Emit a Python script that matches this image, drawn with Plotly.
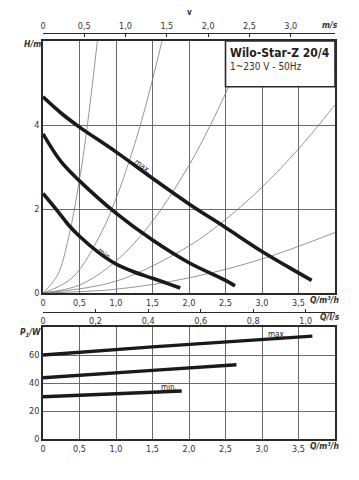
import plotly.graph_objects as go

# page body has an 8px margin: the figure starts at (8, 8) of the window
OFF = 8
W, H = 359 - OFF, 480 - OFF

# ---------------- data ----------------
# pump curves H [m] vs Q [m3/h]
q_max = [0, 0.25, 0.5, 1.0, 1.5, 2.0, 2.5, 3.0, 3.5, 3.68]
h_max = [4.67, 4.28, 3.95, 3.36, 2.73, 2.12, 1.56, 0.99, 0.48, 0.3]
q_mid = [0, 0.25, 0.5, 1.0, 1.5, 2.0, 2.5, 2.63]
h_mid = [3.79, 3.12, 2.67, 1.9, 1.26, 0.72, 0.3, 0.17]
q_min = [0, 0.2, 0.35, 0.5, 0.75, 1.0, 1.25, 1.5, 1.7, 1.88]
h_min = [2.37, 1.95, 1.62, 1.35, 0.98, 0.69, 0.5, 0.35, 0.23, 0.12]

# thin system curves
sys_q = [
    [0, 0.2, 0.35, 0.5, 0.6, 0.745],
    [0, 0.4, 0.8, 1.0, 1.2, 1.4, 1.63],
    [0, 0.5, 1.0, 1.5, 2.0, 2.3, 2.54],
    [0, 1.0, 2.0, 2.5, 3.0, 3.5, 4.0],
    [0, 1.0, 2.0, 3.0, 4.0],
]
sys_h = [
    [0, 0.43, 1.32, 2.7, 3.89, 6.0],
    [0, 0.36, 1.44, 2.25, 3.24, 4.41, 6.0],
    [0, 0.19, 0.76, 1.71, 3.04, 4.02, 4.9],
    [0, 0.28, 1.12, 1.75, 2.52, 3.43, 4.48],
    [0, 0.09, 0.36, 0.81, 1.44],
]

# power curves P1 [W] vs Q [m3/h]
pq_max = [0, 1.5, 3.69]
p_max = [60, 65.8, 73.5]
pq_mid = [0, 1.5, 2.65]
p_mid = [43.8, 49.0, 53.0]
pq_min = [0, 1.0, 1.9]
p_min = [30.2, 32.3, 34.3]

q_ticks = [0, 0.5, 1.0, 1.5, 2.0, 2.5, 3.0, 3.5]
q_labels = ["0", "0,5", "1,0", "1,5", "2,0", "2,5", "3,0", "3,5"]
v_ticks = [0, 0.5, 1.0, 1.5, 2.0, 2.5, 3.0]
v_labels = ["0", "0,5", "1,0", "1,5", "2,0", "2,5", "3,0"]
ls_ticks = [0, 0.2, 0.4, 0.6, 0.8, 1.0]
ls_labels = ["0", "0,2", "0,4", "0,6", "0,8", "1,0"]
h_ticks = [0, 2, 4]
p_ticks = [0, 20, 40, 60]

# ---------------- layout geometry (window pixels -> paper) ----------------
def px(x):
    return (x - OFF) / W

def py(y):
    return 1 - (y - OFF) / H

FONT = "DejaVu Sans Condensed, Liberation Sans Narrow, Roboto Condensed, Liberation Sans, sans-serif"
TXT = "#333333"
GRID = "#6a6a6a"
THICK = "#1a1a1a"

fig = go.Figure()

for qs, hs in zip(sys_q, sys_h):
    fig.add_trace(go.Scatter(x=qs, y=hs, mode="lines", line=dict(color="#7a7a7a", width=0.8, shape="spline"),
                             xaxis="x", yaxis="y", showlegend=False, hoverinfo="skip"))
for qs, hs in [(q_max, h_max), (q_mid, h_mid), (q_min, h_min)]:
    fig.add_trace(go.Scatter(x=qs, y=hs, mode="lines", line=dict(color=THICK, width=3.6, shape="spline", smoothing=1.0),
                             xaxis="x", yaxis="y", showlegend=False, hoverinfo="skip"))
# dummy traces for secondary axes
fig.add_trace(go.Scatter(x=[None], y=[None], xaxis="x2", yaxis="y", showlegend=False, hoverinfo="skip"))
fig.add_trace(go.Scatter(x=[None], y=[None], xaxis="x3", yaxis="y", showlegend=False, hoverinfo="skip"))

for qs, ps in [(pq_max, p_max), (pq_mid, p_mid), (pq_min, p_min)]:
    fig.add_trace(go.Scatter(x=qs, y=ps, mode="lines", line=dict(color=THICK, width=3.4, shape="spline"),
                             xaxis="x4", yaxis="y4", showlegend=False, hoverinfo="skip"))

tickfont = dict(family=FONT, size=9, color=TXT)
common_frame = dict(showline=True, linecolor="#2a2a2a", linewidth=1.6, mirror=True,
                    showgrid=True, gridcolor=GRID, gridwidth=1, zeroline=False,
                    tickfont=tickfont, ticks="", automargin=False)

x_dom = [px(43), px(335)]
fig.update_layout(
    width=W, height=H,
    margin=dict(l=0, r=0, t=0, b=0, autoexpand=False),
    paper_bgcolor="white", plot_bgcolor="white",
    font=dict(family=FONT, color=TXT),
    xaxis=dict(domain=x_dom, range=[0, 4.0], anchor="y", tickvals=q_ticks, ticktext=q_labels, **common_frame),
    yaxis=dict(domain=[py(293), py(41)], range=[0, 6], anchor="x", tickvals=h_ticks, **common_frame),
    xaxis2=dict(overlaying="x", anchor="free", position=py(33), side="top", range=[0, 3.537],
                tickvals=v_ticks, ticktext=v_labels, showline=True, linecolor="#2a2a2a", linewidth=1.2,
                showgrid=False, zeroline=False, ticks="inside", ticklen=3, tickcolor="#2a2a2a",
                tickfont=tickfont, automargin=False),
    xaxis3=dict(overlaying="x", anchor="free", position=py(312), side="bottom", range=[0, 4.0 / 3.6],
                tickvals=ls_ticks, ticktext=ls_labels, showline=True, linecolor="#2a2a2a", linewidth=1.2,
                showgrid=False, zeroline=False, ticks="inside", ticklen=3, tickcolor="#2a2a2a",
                tickfont=tickfont, automargin=False),
    xaxis4=dict(domain=x_dom, range=[0, 4.0], anchor="y4", tickvals=q_ticks, ticktext=q_labels, **common_frame),
    yaxis4=dict(domain=[py(439), py(327)], range=[0, 80], anchor="x4", tickvals=p_ticks, **common_frame),
)

# title box
fig.add_shape(type="rect", xref="x", yref="y", x0=2.5, x1=4.0, y0=4.91, y1=6.0,
              fillcolor="white", line=dict(color="#2a2a2a", width=1.6), layer="above")

ann = []
def A(text, x, y, size=9, bold=False, italic=False, angle=0, xanchor="center", color=TXT):
    t = text
    if bold:
        t = "<b>" + t + "</b>"
    if italic:
        t = "<i>" + t + "</i>"
    ann.append(dict(text=t, x=px(x), y=py(y), xref="paper", yref="paper", showarrow=False,
                    xanchor=xanchor, yanchor="middle", textangle=angle,
                    font=dict(family=FONT, size=size, color=color)))

A("Wilo-Star-Z 20/4", 228, 53, size=12, bold=True, xanchor="left", color="#222")
A("1~230 V - 50Hz", 228, 66, size=10, xanchor="left")
A("v", 189, 13, size=8, bold=True)
A("m/s", 330, 25, size=8.5, bold=True, italic=True)
A("H/m", 32, 44, size=8.5, bold=True, italic=True)
A("Q/m³/h", 324, 300, size=8.5, bold=True, italic=True)
A("Q/l/s", 330, 317, size=8.5, bold=True, italic=True)
A("P<sub>1</sub>/W", 30, 332, size=8.5, bold=True, italic=True)
A("Q/m³/h", 324, 446, size=8.5, bold=True, italic=True)
A("max.", 143, 166, size=8, angle=37, color="#222")
A("min.", 105, 254, size=8, angle=38, color="#222")
A("max.", 277, 334, size=8, color="#222")
A("min.", 169, 387, size=8, color="#222")
fig.update_layout(annotations=ann)

fig.write_html("out.html")
